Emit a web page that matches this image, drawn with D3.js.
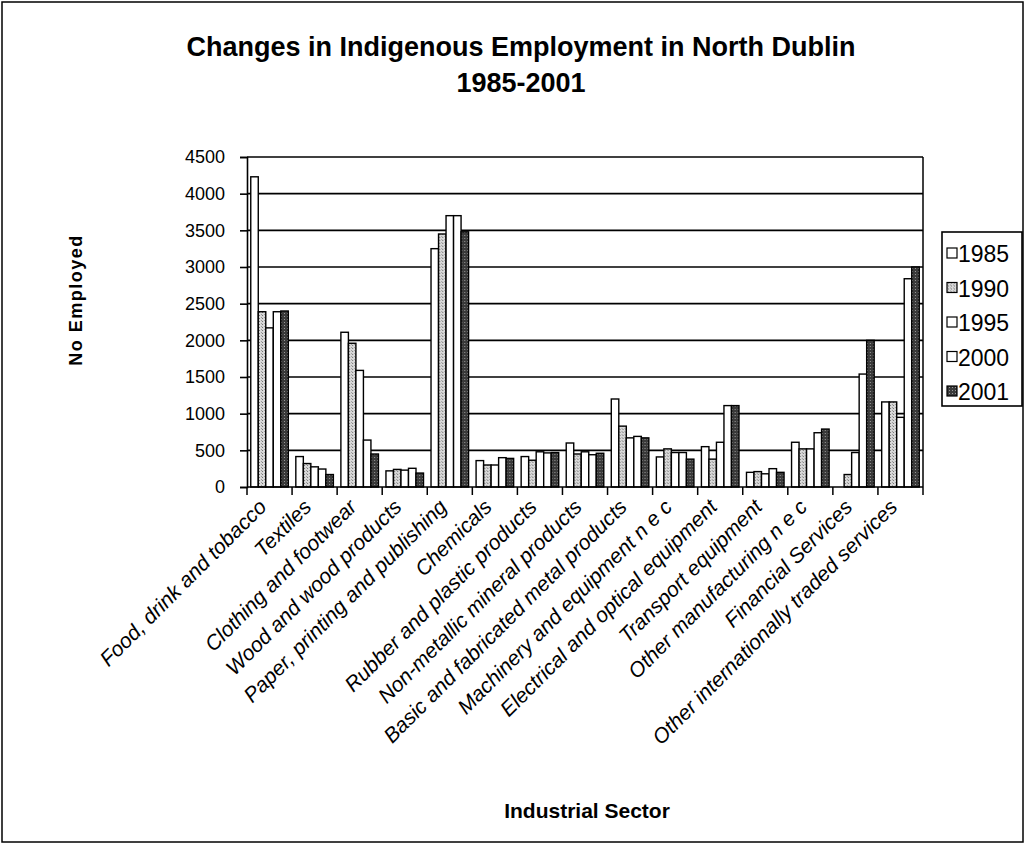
<!DOCTYPE html>
<html>
<head>
<meta charset="utf-8">
<script src="https://cdn.jsdelivr.net/npm/d3@7"></script>
<style>
body { margin: 0; background: #fff; }
text { font-family: "Liberation Sans", Arial, sans-serif; }
</style>
</head>
<body>
<div id="chart"></div>
<script>
var sectors = ["Food, drink and tobacco", "Textiles", "Clothing and footwear",
    "Wood and wood products", "Paper, printing and publishing", "Chemicals",
    "Rubber and plastic products", "Non-metallic mineral products",
    "Basic and fabricated metal products", "Machinery and equipment n e c",
    "Electrical and optical equipment", "Transport equipment",
    "Other manufacturing n e c", "Financial Services",
    "Other internationally traded services"];
var years = ["1985", "1990", "1995", "2000", "2001"];
var v1985 = [4230, 415, 2110, 220, 3250, 360, 415, 600, 1200, 410, 550, 200, 610, 0, 1160];
var v1990 = [2390, 320, 1960, 240, 3450, 300, 365, 450, 830, 520, 380, 210, 520, 170, 1160];
var v1995 = [2170, 275, 1590, 230, 3700, 300, 480, 480, 670, 470, 610, 180, 520, 470, 950];
var v2000 = [2390, 245, 640, 255, 3700, 400, 465, 440, 690, 470, 1110, 250, 740, 1540, 2840];
var v2001 = [2400, 170, 450, 190, 3480, 390, 470, 460, 670, 380, 1110, 200, 790, 2000, 3000];
var yTicks = [0, 500, 1000, 1500, 2000, 2500, 3000, 3500, 4000, 4500];

var series = [v1985, v1990, v1995, v2000, v2001];
var fills = ["#fff", "url(#p1990)", "#fff", "#fff", "url(#p2001)"];

var W = 1025, H = 844;
var plotL = 247, plotR = 923, plotT = 157, plotB = 487;

var svg = d3.select("#chart").append("svg")
    .attr("width", W)
    .attr("height", H);

// stipple patterns like the scanned greys
var defs = svg.append("defs");
var p1 = defs.append("pattern").attr("id", "p1990")
    .attr("width", 3).attr("height", 3).attr("patternUnits", "userSpaceOnUse");
p1.append("rect").attr("width", 3).attr("height", 3).attr("fill", "#d8d8d8");
p1.append("rect").attr("width", 1).attr("height", 1).attr("fill", "#777");
p1.append("rect").attr("x", 2).attr("y", 2).attr("width", 1).attr("height", 1).attr("fill", "#999");
var p2 = defs.append("pattern").attr("id", "p2001")
    .attr("width", 3).attr("height", 3).attr("patternUnits", "userSpaceOnUse");
p2.append("rect").attr("width", 3).attr("height", 3).attr("fill", "#3a3a3a");
p2.append("rect").attr("x", 1).attr("y", 1).attr("width", 1).attr("height", 1).attr("fill", "#999");

// outer frame
svg.append("rect")
    .attr("x", 2).attr("y", 2)
    .attr("width", W - 4).attr("height", H - 4)
    .attr("fill", "none").attr("stroke", "#000").attr("stroke-width", 1.5);

var x0 = d3.scaleBand().domain(sectors).range([plotL, plotR]).padding(0);
var x1 = d3.scaleBand().domain(years).range([0, x0.bandwidth()])
    .paddingInner(0).paddingOuter(0.5);
var y = d3.scaleLinear().domain([0, 4500]).range([plotB, plotT]);

// gridlines
svg.append("g").selectAll("line")
    .data(yTicks.slice(1))
    .enter()
    .append("line")
    .attr("x1", plotL).attr("x2", plotR)
    .attr("y1", function (d) { return y(d); })
    .attr("y2", function (d) { return y(d); })
    .attr("stroke", "#000").attr("stroke-width", 1.6);

// right border of the plot area
svg.append("line")
    .attr("x1", plotR).attr("x2", plotR).attr("y1", plotT).attr("y2", plotB)
    .attr("stroke", "#000").attr("stroke-width", 1.5);

// bars
var groups = svg.append("g").selectAll("g")
    .data(sectors)
    .enter()
    .append("g")
    .attr("transform", function (d) { return "translate(" + x0(d) + ",0)"; });

groups.selectAll("rect")
    .data(function (d, i) {
        return years.map(function (yr, j) { return {year: yr, j: j, value: series[j][i]}; })
            .filter(function (e) { return e.value > 0; });
    })
    .enter()
    .append("rect")
    .attr("x", function (d) { return x1(d.year); })
    .attr("y", function (d) { return y(d.value); })
    .attr("width", x1.bandwidth())
    .attr("height", function (d) { return plotB - y(d.value); })
    .attr("fill", function (d) { return fills[d.j]; })
    .attr("stroke", "#000")
    .attr("stroke-width", 1.4);

// y axis
var yAxis = d3.axisLeft(y).tickValues(yTicks).tickFormat(d3.format("d"))
    .tickSize(7).tickPadding(15);
var gy = svg.append("g").attr("transform", "translate(" + plotL + ",0)").call(yAxis);
gy.selectAll("path, line").attr("stroke", "#000").attr("stroke-width", 1.6);
gy.selectAll("text").attr("font-size", "18px").attr("fill", "#000")
    .attr("font-family", "Liberation Sans, Arial, sans-serif");

// x axis with ticks at the category edges
var gx = svg.append("g");
gx.append("line")
    .attr("x1", plotL).attr("x2", plotR).attr("y1", plotB).attr("y2", plotB)
    .attr("stroke", "#000").attr("stroke-width", 1.6);
gx.selectAll("line.tick")
    .data(sectors.concat(["end"]))
    .enter()
    .append("line")
    .attr("class", "tick")
    .attr("x1", function (d, i) { return plotL + i * x0.step(); })
    .attr("x2", function (d, i) { return plotL + i * x0.step(); })
    .attr("y1", plotB).attr("y2", plotB + 8)
    .attr("stroke", "#000").attr("stroke-width", 1.5);

gx.selectAll("text")
    .data(sectors)
    .enter()
    .append("text")
    .attr("transform", function (d) {
        return "translate(" + (x0(d) + x0.bandwidth() / 2 - 7) + "," + (plotB + 16) + ") rotate(-45)";
    })
    .attr("text-anchor", "end")
    .attr("dy", "0.35em")
    .attr("font-size", "21px")
    .attr("font-style", "italic")
    .text(function (d) { return d; });

// titles
svg.append("text")
    .attr("x", 521).attr("y", 56)
    .attr("text-anchor", "middle")
    .attr("font-size", "27px").attr("font-weight", "bold")
    .text("Changes in Indigenous Employment in North Dublin");
svg.append("text")
    .attr("x", 521).attr("y", 92)
    .attr("text-anchor", "middle")
    .attr("font-size", "27px").attr("font-weight", "bold")
    .text("1985-2001");

svg.append("text")
    .attr("transform", "translate(82,300) rotate(-90)")
    .attr("text-anchor", "middle")
    .attr("font-size", "18px").attr("font-weight", "bold")
    .attr("letter-spacing", "1.5px")
    .text("No  Employed");

svg.append("text")
    .attr("x", 587).attr("y", 818)
    .attr("text-anchor", "middle")
    .attr("font-size", "21px").attr("font-weight", "bold")
    .text("Industrial Sector");

// legend
var lg = svg.append("g").attr("transform", "translate(942,232)");
lg.append("rect")
    .attr("width", 80).attr("height", 174)
    .attr("fill", "#fff").attr("stroke", "#000").attr("stroke-width", 1.6);
var items = lg.selectAll("g.item")
    .data(years)
    .enter()
    .append("g")
    .attr("class", "item")
    .attr("transform", function (d, i) { return "translate(0," + (22 + i * 34.5) + ")"; });
items.append("rect")
    .attr("x", 5).attr("y", -6)
    .attr("width", 10).attr("height", 10)
    .attr("fill", function (d, i) { return fills[i]; })
    .attr("stroke", "#000").attr("stroke-width", 1.2);
items.append("text")
    .attr("x", 16).attr("y", 0)
    .attr("dy", "0.35em")
    .attr("font-size", "23px")
    .text(function (d) { return d; });
</script>
</body>
</html>
